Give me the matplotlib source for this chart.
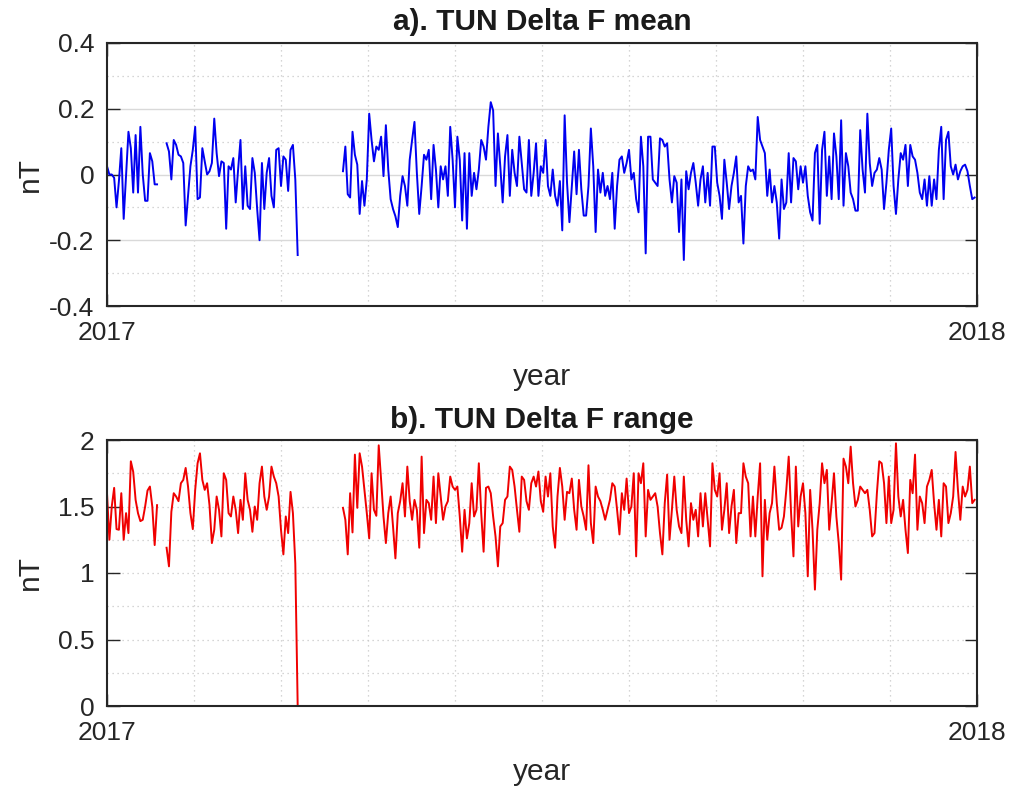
import numpy as np
import matplotlib
matplotlib.use("Agg")
import matplotlib.pyplot as plt
from matplotlib.ticker import MultipleLocator

# ---------------- data (daily values, 2017) ----------------
year_start = 2017
n_days = 365

# first day of each continuous data segment
seg1_start, seg2_start, seg3_start = 0, 25, 99

mean_seg1 = [0.025, 0.0, 0.0, -0.01, -0.1, -0.02, 0.08, -0.135, 0.0, 0.13, 0.08,
             -0.055, 0.12, -0.055, 0.145, 0.0, -0.08, -0.08, 0.065, 0.04, -0.03, -0.03]
mean_seg2 = [0.095, 0.07, -0.015, 0.105, 0.09, 0.06, 0.055, 0.035, -0.155, -0.065,
             0.025, 0.075, 0.145, -0.075, -0.07, 0.08, 0.04, 0.0, 0.01, 0.035,
             0.17, 0.065, -0.005, 0.04, 0.035, -0.165, 0.025, 0.015, 0.05, -0.085,
             0.015, 0.105, -0.105, 0.025, -0.095, -0.105, 0.05, 0.005, -0.105, -0.2,
             0.035, -0.105, 0.005, 0.05, -0.065, -0.1, 0.075, 0.08, -0.035, 0.055,
             0.045, -0.05, 0.075, 0.09, -0.015, -0.245]
mean_seg3 = [
    # Apr - Jul
    0.01, 0.085, -0.06, -0.07, 0.13, 0.06, 0.03, -0.12, -0.02, -0.095,
    -0.015, 0.185, 0.105, 0.04, 0.085, 0.075, 0.115, -0.005, 0.15, 0.015,
    -0.075, -0.105, -0.127, -0.16, -0.065, -0.005, -0.035, -0.095, 0.045, 0.105,
    0.16, 0.005, -0.12, -0.035, 0.06, 0.045, 0.075, -0.075, 0.09, 0.015,
    -0.1, 0.025, -0.015, 0.025, -0.065, 0.145, 0.045, -0.1, 0.115, 0.045,
    -0.14, 0.065, -0.165, 0.065, -0.065, 0.005, -0.045, 0.015, 0.105, 0.085,
    0.045, 0.145, 0.22, 0.195, -0.035, 0.125, 0.025, -0.085, 0.055, 0.12,
    -0.065, 0.075, 0.005, -0.035, 0.115, 0.035, -0.045, -0.055, 0.105, -0.065,
    0.005, 0.095, -0.065, 0.025, 0.005, 0.105, -0.035,
    # Jul - Oct
    -0.065, 0.015, -0.065, -0.095, -0.02, -0.17, 0.18, -0.025, -0.145, -0.035,
    0.07, -0.06, 0.075, -0.045, -0.125, -0.125, -0.035, 0.14, 0.025, -0.175,
    0.015, -0.055, 0.005, -0.065, -0.035, -0.075, 0.005, -0.165, -0.035, 0.045,
    0.055, 0.005, 0.035, 0.075, -0.015, 0.005, -0.075, -0.115, 0.115, 0.025,
    -0.24, 0.115, 0.115, -0.015, -0.025, -0.035, 0.11, 0.105, 0.085, 0.095,
    -0.015, -0.085, -0.005, -0.025, -0.175, -0.015, -0.26, 0.01, -0.045, 0.005,
    0.035, -0.025, -0.095, -0.015, 0.025, -0.085, 0.005, -0.095, 0.085, 0.085,
    -0.025, -0.065, -0.135, 0.045, -0.025, -0.105, -0.035, 0.005, 0.055, -0.085,
    -0.065, -0.21, -0.035, 0.025, 0.01, 0.015, -0.015, 0.175, 0.105, 0.085,
    # Oct - Dec
    0.065, -0.065, 0.015, -0.085, -0.035, -0.085, -0.195, -0.015, -0.105, -0.085,
    0.065, -0.085, 0.05, 0.04, -0.045, 0.025, -0.025, 0.025, -0.065, -0.115,
    -0.14, 0.065, 0.09, -0.15, 0.075, 0.13, -0.065, 0.055, -0.075, 0.125,
    0.055, -0.075, 0.165, -0.095, 0.065, 0.025, -0.055, -0.075, -0.11, -0.11,
    0.135, 0.015, -0.055, 0.185, 0.035, -0.035, 0.005, 0.015, 0.05, 0.015,
    -0.105, -0.025, 0.075, 0.14, -0.035, -0.12, -0.015, 0.065, 0.045, 0.09,
    -0.035, 0.09, 0.055, 0.045, 0.005, -0.055, -0.075, -0.015, -0.095, -0.005,
    -0.095, -0.015, -0.075, 0.075, 0.145, -0.075, 0.105, 0.13, 0.025, 0.0,
    0.03, -0.015, 0.01, 0.025, 0.03, 0.01, -0.035, -0.075, -0.07]

range_seg1 = [1.6, 1.25, 1.5, 1.64, 1.33, 1.325, 1.6, 1.25, 1.45, 1.3, 1.84,
              1.76, 1.55, 1.45, 1.39, 1.4, 1.5, 1.62, 1.65, 1.5, 1.21, 1.51]
range_seg2 = [1.19, 1.05, 1.46, 1.6, 1.575, 1.54, 1.675, 1.7, 1.79, 1.65,
              1.45, 1.33, 1.625, 1.825, 1.9, 1.7, 1.625, 1.675, 1.51, 1.225,
              1.325, 1.575, 1.475, 1.275, 1.75, 1.7, 1.45, 1.425, 1.575, 1.475,
              1.3, 1.55, 1.4, 1.75, 1.55, 1.475, 1.31, 1.5, 1.4, 1.675,
              1.8, 1.575, 1.475, 1.575, 1.8, 1.725, 1.675, 1.575, 1.325, 1.14,
              1.425, 1.3, 1.61, 1.45, 1.07, 0.0]
range_seg3 = [
    # Apr - Jul
    1.49, 1.4, 1.14, 1.6, 1.305, 1.89, 1.49, 1.9, 1.8, 1.625,
    1.45, 1.26, 1.75, 1.475, 1.43, 1.96, 1.7, 1.425, 1.225, 1.45,
    1.575, 1.35, 1.11, 1.45, 1.54, 1.675, 1.425, 1.8, 1.54, 1.4,
    1.55, 1.475, 1.19, 1.875, 1.3, 1.55, 1.525, 1.4, 1.725, 1.375,
    1.75, 1.575, 1.4, 1.5, 1.54, 1.725, 1.65, 1.625, 1.65, 1.425,
    1.16, 1.475, 1.26, 1.375, 1.675, 1.425, 1.475, 1.825, 1.45, 1.16,
    1.64, 1.65, 1.6, 1.425, 1.275, 1.05, 1.35, 1.375, 1.55, 1.575,
    1.8, 1.775, 1.65, 1.475, 1.31, 1.725, 1.7, 1.54, 1.475, 1.675,
    1.725, 1.65, 1.763, 1.54, 1.46, 1.725, 1.575,
    # Jul - Oct
    1.75, 1.35, 1.19, 1.575, 1.79, 1.65, 1.4, 1.61, 1.6, 1.71,
    1.475, 1.325, 1.7, 1.5, 1.425, 1.325, 1.81, 1.375, 1.225, 1.65,
    1.575, 1.54, 1.475, 1.4, 1.475, 1.55, 1.675, 1.65, 1.475, 1.29,
    1.6, 1.475, 1.71, 1.45, 1.5, 1.75, 1.125, 1.75, 1.675, 1.825,
    1.275, 1.625, 1.55, 1.575, 1.6, 1.5, 1.3, 1.14, 1.525, 1.74,
    1.25, 1.475, 1.725, 1.475, 1.35, 1.3, 1.725, 1.4, 1.2, 1.525,
    1.4, 1.475, 1.275, 1.6, 1.35, 1.6, 1.4, 1.2, 1.825, 1.625,
    1.575, 1.75, 1.325, 1.475, 1.675, 1.3, 1.5, 1.625, 1.225, 1.45,
    1.45, 1.825, 1.725, 1.675, 1.275, 1.575, 1.275, 1.575, 1.825, 0.975,
    # Oct - Dec
    1.55, 1.25, 1.45, 1.525, 1.8, 1.525, 1.325, 1.34, 1.425, 1.625,
    1.875, 1.45, 1.125, 1.8, 1.35, 1.575, 1.675, 1.45, 0.975, 1.625,
    1.325, 0.875, 1.325, 1.525, 1.825, 1.675, 1.775, 1.325, 1.525, 1.75,
    1.425, 1.225, 0.95, 1.86, 1.8, 1.675, 1.95, 1.675, 1.5, 1.55,
    1.65, 1.625, 1.6, 1.625, 1.475, 1.275, 1.3, 1.6, 1.84, 1.825,
    1.675, 1.375, 1.725, 1.375, 1.475, 1.975, 1.575, 1.425, 1.55, 1.325,
    1.15, 1.7, 1.6, 1.89, 1.325, 1.575, 1.525, 1.375, 1.65, 1.7,
    1.775, 1.525, 1.325, 1.55, 1.275, 1.675, 1.65, 1.375, 1.45, 1.575,
    1.91, 1.625, 1.4, 1.65, 1.575, 1.625, 1.8, 1.525, 1.55]

titles = ["a). TUN Delta F mean", "b). TUN Delta F range"]
ylabel = "nT"
xlabel = "year"
xtick_labels = ["2017", "2018"]
top_yticks = [-0.4, -0.2, 0, 0.2, 0.4]
top_yticklabels = ["-0.4", "-0.2", "0", "0.2", "0.4"]
bot_yticks = [0, 0.5, 1, 1.5, 2]
bot_yticklabels = ["0", "0.5", "1", "1.5", "2"]


def build_series(segs, starts):
    arr = np.full(n_days, np.nan)
    for s, st in zip(segs, starts):
        arr[st:st + len(s)] = s
    return arr


starts = [seg1_start, seg2_start, seg3_start]
mean_vals = build_series([mean_seg1, mean_seg2, mean_seg3], starts)
range_vals = build_series([range_seg1, range_seg2, range_seg3], starts)
t = year_start + np.arange(n_days) / 365.0

# ---------------- figure ----------------
plt.rcParams['font.family'] = ['Liberation Sans', 'DejaVu Sans']
W, H = 1011, 794
fig = plt.figure(figsize=(W / 100, H / 100), dpi=100)


def axes_px(l, t_, r, b):
    return fig.add_axes([l / W, 1 - b / H, (r - l) / W, (b - t_) / H])


ax1 = axes_px(107, 43, 977, 306)
ax2 = axes_px(107, 440, 977, 706)

tick_fs = 19
label_fs = 21.5
title_fs = 21.5
spine_col = '#262626'


def style(ax, yticks, ylabels, ylim, ymin_step, solid_major, title, xlab_y):
    ax.set_xlim(year_start, year_start + 1)
    ax.set_ylim(*ylim)
    ax.set_xticks([year_start, year_start + 1])
    ax.set_xticklabels(xtick_labels)
    ax.xaxis.set_minor_locator(MultipleLocator(0.1))
    ax.set_yticks(yticks)
    ax.set_yticklabels(ylabels)
    ax.yaxis.set_minor_locator(MultipleLocator(ymin_step))
    ax.tick_params(which='both', direction='in', top=True, right=True,
                   labelsize=tick_fs, colors=spine_col)
    ax.tick_params(which='major', length=9, width=1.0)
    ax.tick_params(which='minor', length=0)
    ax.tick_params(axis='x', pad=11)
    ax.tick_params(axis='y', pad=9)
    for sp in ax.spines.values():
        sp.set_color(spine_col)
        sp.set_linewidth(1.5)
    if solid_major:
        ax.grid(True, which='major', axis='y', color='#d9d9d9', lw=1.0, ls='-')
    else:
        ax.grid(True, which='major', axis='y', color='#c8c8c8', lw=0.9, ls=(0, (1, 3)))
    ax.grid(True, which='minor', axis='both', color='#c8c8c8', lw=0.9, ls=(0, (1, 3)))
    ax.set_axisbelow(True)
    ax.set_title(title, fontsize=title_fs, fontweight='bold', pad=9, color='#1a1a1a')
    ax.set_ylabel(ylabel, fontsize=label_fs, color='#262626')
    ax.yaxis.set_label_coords(-0.073, 0.5)
    ax.set_xlabel(xlabel, fontsize=label_fs, color='#262626')
    ax.xaxis.set_label_coords(0.5, xlab_y)


style(ax1, top_yticks, top_yticklabels, (-0.4, 0.4), 0.1, True, titles[0], -0.215)
style(ax2, bot_yticks, bot_yticklabels, (0, 2), 0.25, False, titles[1], -0.195)

ax1.plot(t, mean_vals, color='#0000f0', lw=1.4)
ax2.plot(t, range_vals, color='#f00000', lw=1.4)

fig.savefig("out.png", dpi=100)
